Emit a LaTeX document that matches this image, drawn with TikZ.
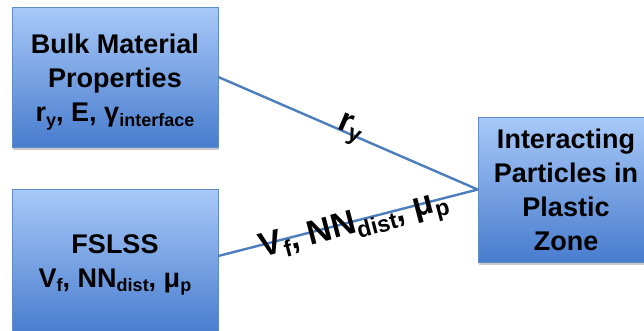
\documentclass[tikz,border=0pt]{standalone}
\usepackage{fontspec}
\setmainfont{Liberation Sans}
\usetikzlibrary{shadows,calc}
\definecolor{boxtop}{RGB}{168,201,248}
\definecolor{boxbot}{RGB}{72,124,206}
\definecolor{boxedge}{RGB}{96,140,200}
\definecolor{connc}{RGB}{76,126,190}
\newcommand{\lowsub}[1]{\raisebox{-4.5pt}{\fontsize{18}{18}\selectfont #1}}
\newcommand{\bigsub}[1]{\raisebox{-6pt}{\fontsize{23}{23}\selectfont #1}}
\tikzset{
  box/.style={rectangle, draw=boxedge, line width=0.6pt, top color=boxtop, bottom color=boxbot,
    drop shadow={shadow xshift=1pt, shadow yshift=-3pt, opacity=0.35, fill=black!60}},
  txt/.style={align=center, font=\fontsize{27}{34}\selectfont\bfseries, inner sep=0pt},
  conn/.style={draw=connc, line width=2.4pt},
  lbl/.style={font=\fontsize{34}{40}\selectfont\bfseries, inner sep=0pt}
}
\begin{document}
\begin{tikzpicture}[x=1pt,y=-1pt]
\clip (0,0) rectangle (644,330);
\fill[white] (0,0) rectangle (644,330);
\node[box, minimum width=206pt, minimum height=140pt] (bulk) at (115,77) {};
\node[box, minimum width=206pt, minimum height=146pt] (fslss) at (115,262) {};
\node[box, minimum width=176pt, minimum height=145pt] (inter) at (566,189.5) {};
\node[txt] (bulkt) at (115,82) {Bulk Material\\Properties\\r\lowsub{y}, E, γ\lowsub{interface}};
\node[txt] (fslsst) at (115,265) {FSLSS\\V\lowsub{f}, NN\lowsub{dist}, μ\lowsub{p}};
\node[txt] (intert) at (566,189.5) {Interacting\\Particles in\\Plastic\\Zone};
\coordinate (s1) at (bulk.east);
\coordinate (s2) at ([yshift=6pt]fslss.east);
\coordinate (e) at (inter.west);
\draw[conn] (s1) -- (e);
\draw[conn] (s2) -- (e);
\node[lbl, anchor=base, rotate=-23.3] (l1) at ($(s1)!0.5!(e)$) {r\bigsub{y}};
\node[lbl, anchor=base, rotate=14.8] (l2) at ($($(s2)!0.52!(e)$)!12pt!-90:(e)$) {V\bigsub{f}, NN\bigsub{dist}, μ\bigsub{p}};
\end{tikzpicture}
\end{document}
